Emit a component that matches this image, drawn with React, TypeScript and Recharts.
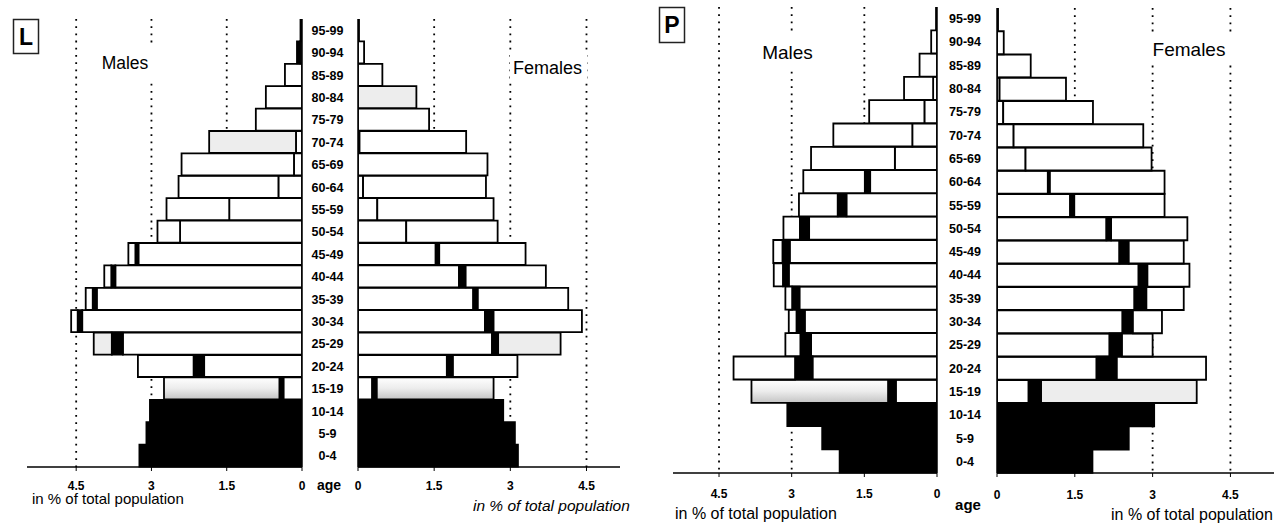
import { BarChart, Bar, XAxis, YAxis, CartesianGrid, Cell } from 'recharts';

// age groups, youngest first (drawn bottom to top)
const ageGroups = [
  '0-4', '5-9', '10-14', '15-19', '20-24', '25-29', '30-34', '35-39', '40-44', '45-49',
  '50-54', '55-59', '60-64', '65-69', '70-74', '75-79', '80-84', '85-89', '90-94', '95-99',
];

const xTicks = [0, 1.5, 3, 4.5];
const gridValues = [1.5, 3, 4.5];

// L - % of total population; inner = part up to the black mark, mark = black mark width
const lMaleTotal = [3.24, 3.10, 3.03, 2.75, 3.27, 4.15, 4.60, 4.31, 3.94, 3.46, 2.88, 2.70, 2.46, 2.40, 1.85, 0.92, 0.72, 0.34, 0.10, 0.03];
const lMaleInner = [3.24, 3.10, 3.03, 0.37, 1.95, 3.57, 4.38, 4.09, 3.72, 3.26, 2.43, 1.45, 0.47, 0.16, 0.12, 0.92, 0.72, 0.34, 0.04, 0.03];
const lMaleMark = [0, 0, 0, 0.08, 0.21, 0.22, 0.09, 0.08, 0.08, 0.06, 0, 0, 0, 0, 0, 0, 0, 0, 0.06, 0];

const lFemaleTotal = [3.15, 3.09, 2.86, 2.67, 3.14, 3.99, 4.41, 4.14, 3.70, 3.30, 2.75, 2.67, 2.52, 2.55, 2.13, 1.40, 1.15, 0.48, 0.12, 0.02];
const lFemaleInner = [3.15, 3.09, 2.86, 0.28, 1.75, 2.64, 2.50, 2.27, 1.99, 1.53, 0.95, 0.38, 0.10, 2.55, 0.03, 1.40, 1.15, 0.48, 0.12, 0.02];
const lFemaleMark = [0, 0, 0, 0.09, 0.12, 0.12, 0.17, 0.09, 0.13, 0.07, 0, 0, 0, 0, 0, 0, 0, 0, 0, 0];

// P
const pMaleTotal = [2.01, 2.37, 3.09, 3.83, 4.20, 3.13, 3.06, 3.13, 3.37, 3.38, 3.17, 2.85, 2.76, 2.60, 2.14, 1.40, 0.68, 0.36, 0.12, 0.02];
const pMaleInner = [2.01, 2.37, 3.09, 0.85, 2.57, 2.60, 2.73, 2.84, 3.06, 3.04, 2.64, 1.87, 1.38, 0.87, 0.51, 0.26, 0.08, 0.36, 0.12, 0.02];
const pMaleMark = [0, 0, 0, 0.16, 0.36, 0.22, 0.17, 0.15, 0.12, 0.15, 0.19, 0.18, 0.11, 0, 0, 0, 0, 0, 0, 0];

const pFemaleTotal = [1.84, 2.54, 3.03, 3.85, 4.03, 3.00, 3.18, 3.60, 3.71, 3.60, 3.67, 3.23, 3.23, 2.98, 2.82, 1.85, 1.33, 0.65, 0.13, 0.02];
const pFemaleInner = [1.84, 2.54, 3.03, 0.61, 1.92, 2.17, 2.42, 2.65, 2.73, 2.36, 2.11, 1.41, 0.98, 0.55, 0.32, 0.12, 0.05, 0.65, 0.13, 0.02];
const pFemaleMark = [0, 0, 0, 0.24, 0.39, 0.24, 0.20, 0.23, 0.17, 0.18, 0.09, 0.08, 0.04, 0, 0, 0, 0, 0, 0, 0];

const FONT = 'Arial, "Liberation Sans", Helvetica, sans-serif';

type Shade = Record<string, 'mid' | 'light'>;

type PanelProps = {
  id: string;
  male: boolean;
  total: number[];
  inner: number[];
  mark: number[];
  left: number;
  top: number;
  width: number;
  padLeft: number;
  axisH: number;
  maxX: number;
  yAxisW: number;
  ageDx?: number;
  tickGap: number;
  innerShade?: Shade;
  outerShade?: Shade;
};

function Panel(p: PanelProps) {
  const rows = ageGroups.map((age, i) => ({
    age,
    inner: p.inner[i],
    mark: p.mark[i],
    outer: Math.max(0, Math.round((p.total[i] - p.inner[i] - p.mark[i]) * 1000) / 1000),
  }));
  const shadeFill = (s?: string) =>
    s === 'mid' ? `url(#${p.id}-mid)` : s === 'light' ? '#ededed' : '#ffffff';

  // dotted guide lines only at 1.5 / 3 / 4.5, taken from the axis scale
  const gridX = ({ xAxis, offset }: any) =>
    gridValues.map((v) => {
      if (xAxis && typeof xAxis.scale === 'function') return xAxis.scale(v);
      const f = v / p.maxX;
      return offset.left + (p.male ? 1 - f : f) * offset.width;
    });

  const ageTick = (t: any) => (
    <text
      x={t.x + (p.ageDx || 0)}
      y={t.y}
      dy="0.36em"
      textAnchor="middle"
      fontSize={12.5}
      fontWeight={700}
      fontFamily={FONT}
      fill="#000"
    >
      {t.payload.value}
    </text>
  );

  return (
    <div style={{ position: 'absolute', left: p.left, top: p.top }}>
      <BarChart
        width={p.width}
        height={523 - p.top}
        data={rows}
        layout="vertical"
        margin={{ top: 0, right: 0, left: p.padLeft, bottom: 0 }}
        barCategoryGap={0}
        barGap={0}
      >
        <defs>
          <linearGradient id={`${p.id}-mid`} x1="0" y1="0" x2="0" y2="1">
            <stop offset="0%" stopColor="#ffffff" />
            <stop offset="50%" stopColor="#ececec" />
            <stop offset="100%" stopColor="#c4c4c4" />
          </linearGradient>
        </defs>
        <CartesianGrid
          horizontal={false}
          verticalCoordinatesGenerator={gridX}
          stroke="#000"
          strokeWidth={1.8}
          strokeDasharray="1.8 5.4"
        />
        <XAxis
          type="number"
          domain={[0, p.maxX]}
          allowDataOverflow
          ticks={xTicks}
          interval={0}
          reversed={p.male}
          height={p.axisH}
          axisLine={{ stroke: '#000', strokeWidth: 1.5 }}
          tickLine={{ stroke: '#000' }}
          tickSize={4}
          tickMargin={p.tickGap}
          tick={{ fill: '#000', fontSize: 12, fontWeight: 700, fontFamily: FONT }}
        />
        {p.male ? (
          <YAxis
            dataKey="age"
            type="category"
            reversed
            orientation="right"
            width={p.yAxisW}
            interval={0}
            axisLine={{ stroke: '#000', strokeWidth: 1.5 }}
            tickLine={false}
            tickSize={0}
            tickMargin={0}
            tick={ageTick}
          />
        ) : (
          <YAxis
            dataKey="age"
            type="category"
            reversed
            orientation="left"
            width={p.yAxisW}
            axisLine={{ stroke: '#000', strokeWidth: 1.5 }}
            tickLine={false}
            tick={false}
          />
        )}
        <Bar dataKey="inner" stackId="s" stroke="#000" strokeWidth={1.8} isAnimationActive={false}>
          {rows.map((r, i) => (
            <Cell key={r.age} fill={i < 3 ? '#000' : shadeFill(p.innerShade?.[r.age])} />
          ))}
        </Bar>
        <Bar dataKey="mark" stackId="s" fill="#000" stroke="#000" strokeWidth={1.8} isAnimationActive={false} />
        <Bar dataKey="outer" stackId="s" stroke="#000" strokeWidth={1.8} isAnimationActive={false}>
          {rows.map((r) => (
            <Cell key={r.age} fill={shadeFill(p.outerShade?.[r.age])} />
          ))}
        </Bar>
      </BarChart>
    </div>
  );
}

function Overlay() {
  const t = { fontFamily: FONT, fill: '#000' };
  return (
    <svg
      width={1274}
      height={523}
      style={{ position: 'absolute', left: 0, top: 0, pointerEvents: 'none' }}
    >
      {/* panel letters */}
      <rect x={13.5} y={19.5} width={25} height={34} fill="#fff" stroke="#222" strokeWidth={1.5} />
      <text x={26} y={37} dy="0.36em" textAnchor="middle" fontSize={23} fontWeight={700} {...t}>L</text>
      <rect x={659.5} y={7.5} width={25} height={35} fill="#fff" stroke="#222" strokeWidth={1.5} />
      <text x={672} y={25} dy="0.36em" textAnchor="middle" fontSize={23} fontWeight={700} {...t}>P</text>

      {/* panel titles, white boxes break the dotted gridlines */}
      <rect x={97} y={46} width={57} height={33} fill="#fff" />
      <text x={125} y={63} dy="0.36em" textAnchor="middle" fontSize={17.5} {...t}>Males</text>
      <rect x={510} y={52} width={77} height={30} fill="#fff" />
      <text x={547.5} y={68} dy="0.36em" textAnchor="middle" fontSize={18} {...t}>Females</text>
      <rect x={756} y={34} width={64} height={33} fill="#fff" />
      <text x={787.5} y={52} dy="0.36em" textAnchor="middle" fontSize={19} {...t}>Males</text>
      <rect x={1150} y={34} width={82} height={31} fill="#fff" />
      <text x={1189} y={49} dy="0.36em" textAnchor="middle" fontSize={19} {...t}>Females</text>

      {/* age captions */}
      <text x={329} y={485} dy="0.36em" textAnchor="middle" fontSize={14} fontWeight={700} {...t}>age</text>
      <text x={968} y={505} dy="0.36em" textAnchor="middle" fontSize={15} fontWeight={700} {...t}>age</text>

      {/* axis titles */}
      <text x={32} y={499} dy="0.36em" fontSize={15} {...t}>in % of total population</text>
      <text x={473} y={505} dy="0.36em" fontSize={15.5} fontStyle="italic" {...t}>in % of total population</text>
      <text x={675} y={513} dy="0.36em" fontSize={16} {...t}>in % of total population</text>
      <text x={1111} y={514} dy="0.36em" fontSize={16} {...t}>in % of total population</text>
    </svg>
  );
}

export default function App() {
  return (
    <div
      style={{
        position: 'absolute',
        left: 0,
        top: 0,
        width: 1274,
        height: 523,
        background: '#fff',
        overflow: 'hidden',
        fontFamily: FONT,
      }}
    >
      <Panel
        id="lm"
        male
        total={lMaleTotal}
        inner={lMaleInner}
        mark={lMaleMark}
        left={0}
        top={19}
        width={358}
        padLeft={27}
        axisH={56}
        maxX={5.48}
        yAxisW={56}
        ageDx={25.5}
        tickGap={10}
        outerShade={{ '15-19': 'mid', '25-29': 'light', '70-74': 'light' }}
      />
      <Panel
        id="lf"
        male={false}
        total={lFemaleTotal}
        inner={lFemaleInner}
        mark={lFemaleMark}
        left={340}
        top={19}
        width={280}
        padLeft={0}
        axisH={56}
        maxX={5.16}
        yAxisW={18}
        tickGap={10}
        innerShade={{ '80-84': 'light' }}
        outerShade={{ '15-19': 'mid', '25-29': 'light' }}
      />
      <Panel
        id="pm"
        male
        total={pMaleTotal}
        inner={pMaleInner}
        mark={pMaleMark}
        left={640}
        top={7}
        width={357}
        padLeft={33}
        axisH={50}
        maxX={5.45}
        yAxisW={60}
        ageDx={28}
        tickGap={12}
        outerShade={{ '15-19': 'mid' }}
      />
      <Panel
        id="pf"
        male={false}
        total={pFemaleTotal}
        inner={pFemaleInner}
        mark={pFemaleMark}
        left={980}
        top={8}
        width={294}
        padLeft={0}
        axisH={50}
        maxX={5.34}
        yAxisW={17}
        tickGap={13}
        outerShade={{ '15-19': 'light' }}
      />
      <Overlay />
    </div>
  );
}
